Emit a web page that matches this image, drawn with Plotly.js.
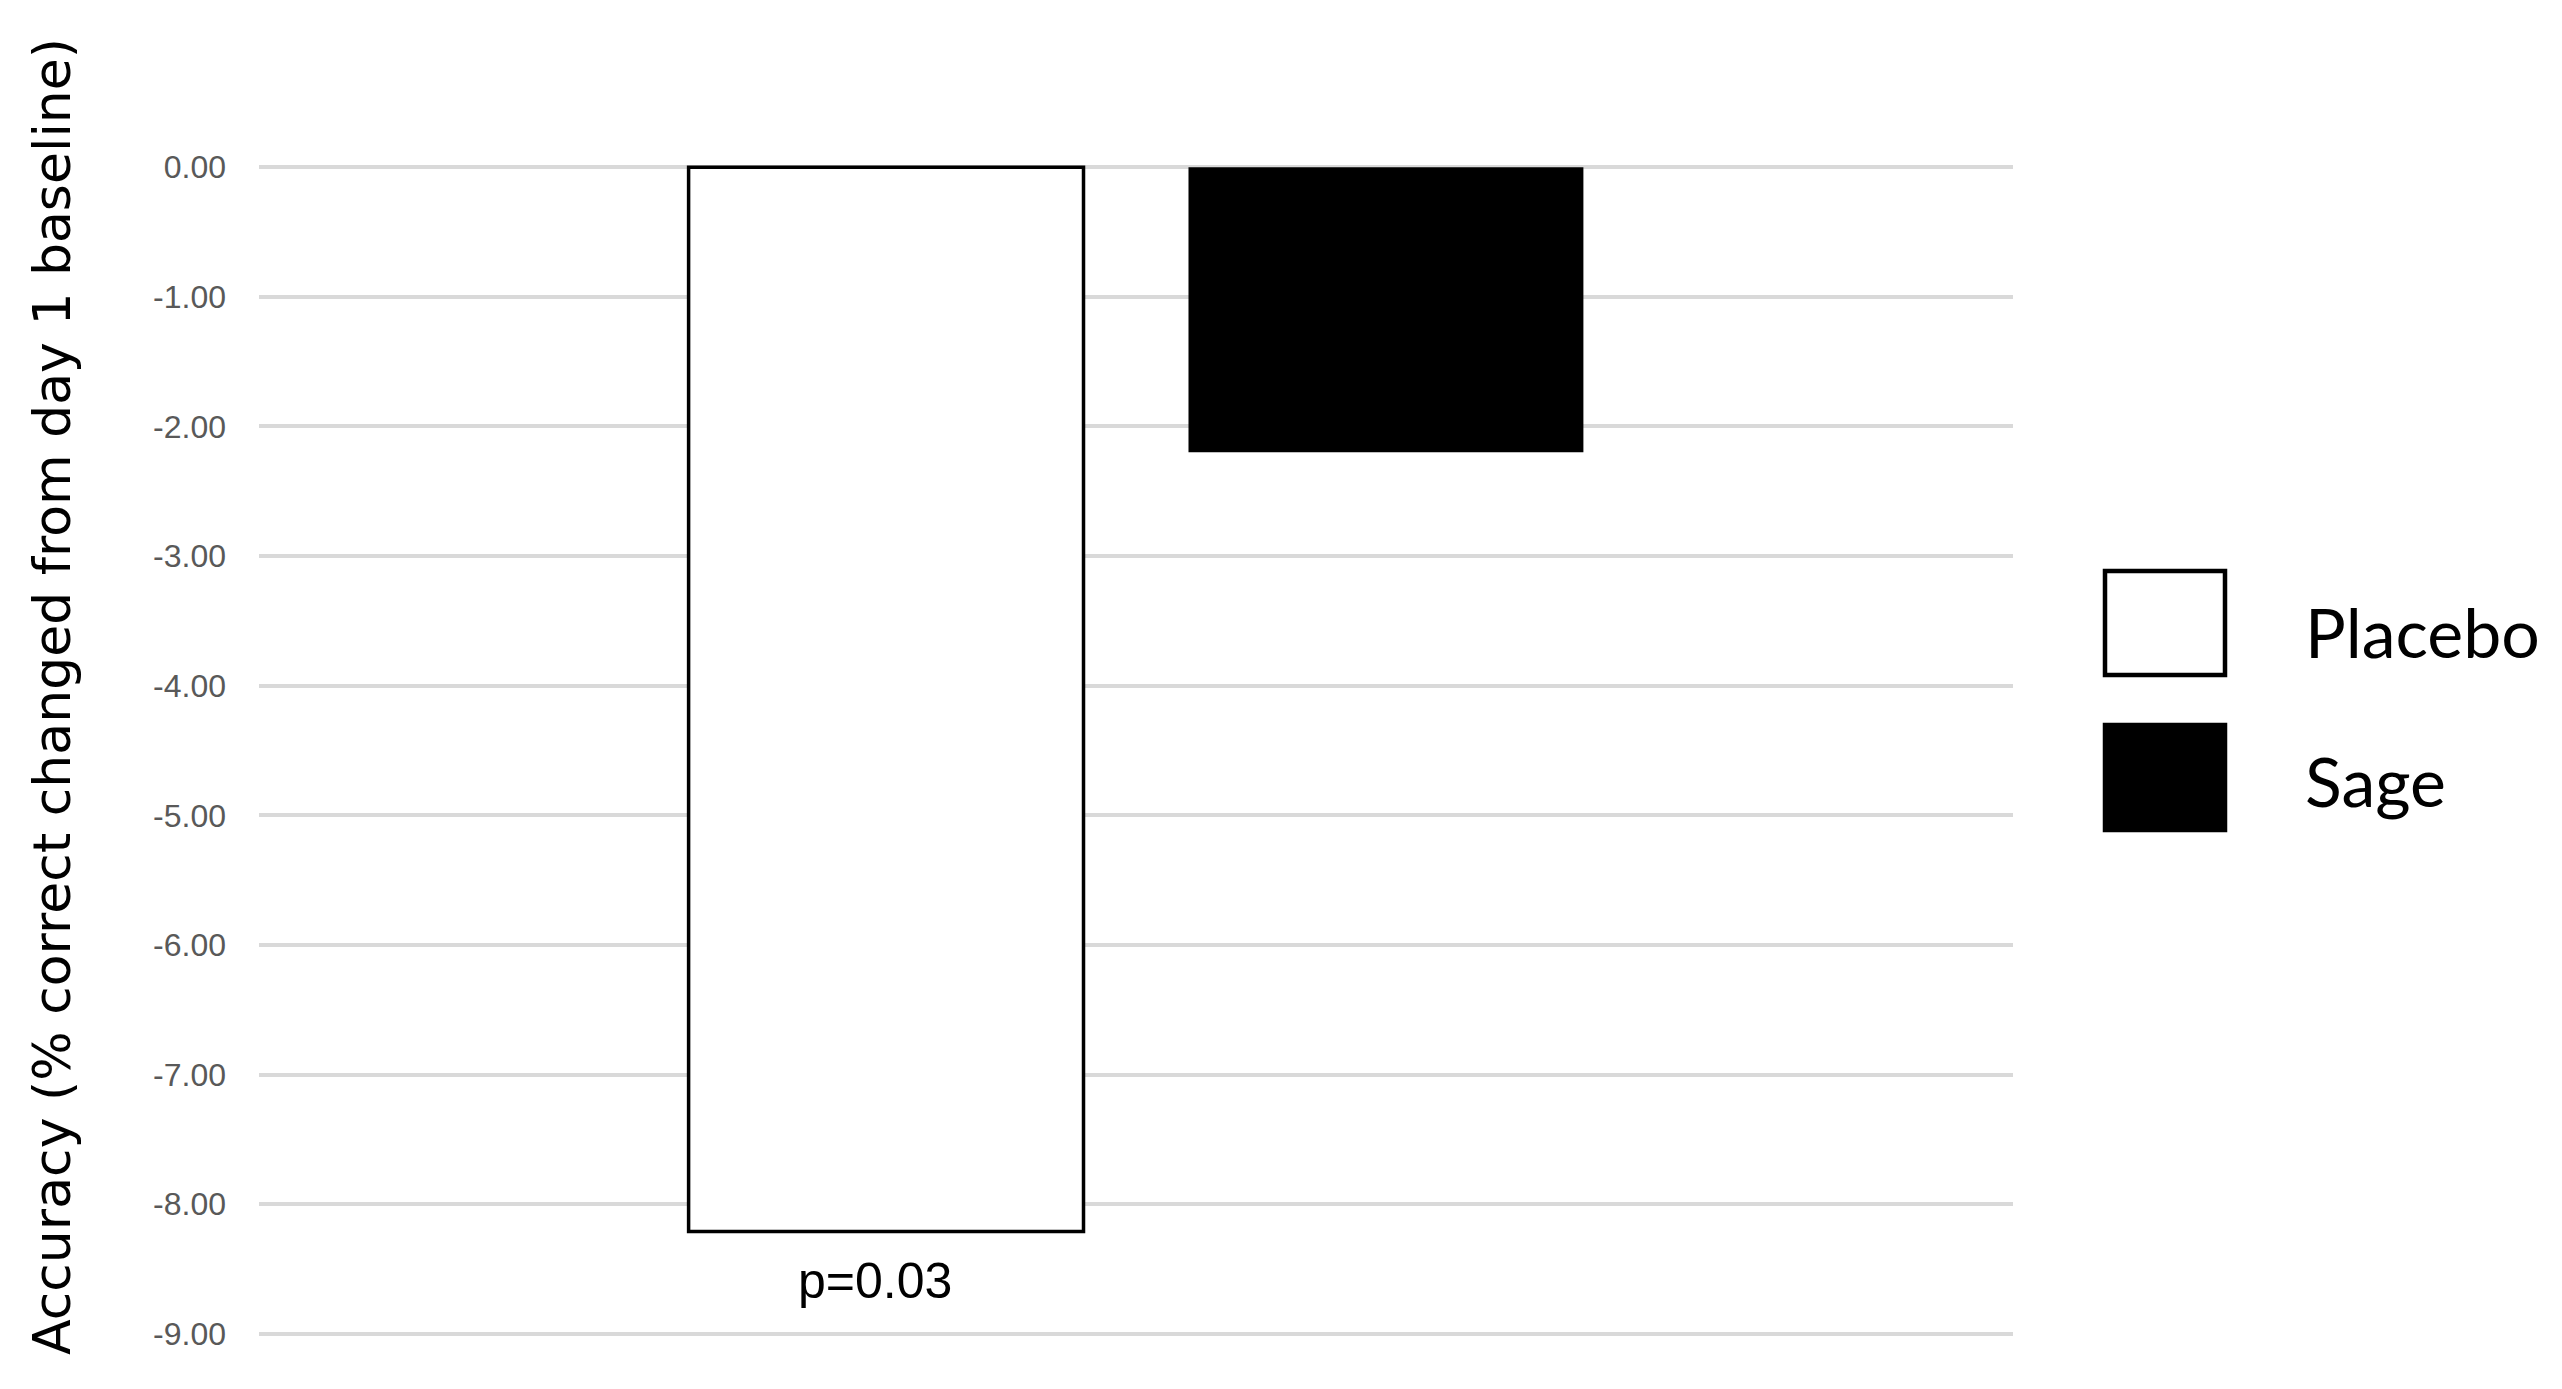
<!DOCTYPE html>
<html>
<head>
<meta charset="utf-8">
<script src="https://cdn.plot.ly/plotly-3.0.1.min.js"></script>
<style>
  html, body { margin: 0; padding: 0; background: #fff; }
  #chart { width: 2562px; height: 1389px; }
</style>
</head>
<body>
<div id="chart"></div>
<script>
// Accuracy change from day 1 baseline, one group of two bars
const groups = ['Placebo', 'Sage'];
const accuracyChange = [-8.21, -2.20];
const groupFills = ['#ffffff', '#000000'];
const category = ['Accuracy'];
const tickValues = [0, -1, -2, -3, -4, -5, -6, -7, -8, -9];
const tickLabels = ['0.00', '-1.00', '-2.00', '-3.00', '-4.00', '-5.00', '-6.00', '-7.00', '-8.00', '-9.00'];
const pLabel = 'p=0.03';

const W = 2562, H = 1389;
const M = { l: 259, r: 549, t: 162, b: 50 };
const plotW = W - M.l - M.r, plotH = H - M.t - M.b;
// pixel -> paper helpers for legend / labels placed outside the plot area
const px = (x) => (x - M.l) / plotW;
const py = (y) => (H - M.b - y) / plotH;

const traces = groups.map((name, i) => ({
  type: 'bar', name, x: category, y: [accuracyChange[i]],
  marker: { color: groupFills[i], line: { color: '#000000', width: i === 0 ? 3.5 : 0 } },
  hoverinfo: 'name+y',
}));

const shapes = [];
const annotations = [];

// hand-drawn legend: big square swatches like the original
const legendRows = [{ y0: 569, y1: 677, ty: 631 }, { y0: 723, y1: 832, ty: 781 }];
groups.forEach((name, i) => {
  const r = legendRows[i];
  shapes.push({
    type: 'rect', xref: 'paper', yref: 'paper',
    x0: px(2105), x1: px(2225), y0: py(r.y1 - 2), y1: py(r.y0 + 2),
    fillcolor: groupFills[i], line: { color: '#000000', width: 4.5 },
  });
  annotations.push({
    xref: 'paper', yref: 'paper', x: px(2303), y: py(r.ty),
    xanchor: 'left', yanchor: 'middle', showarrow: false, text: name,
    font: { family: 'Lato, "Liberation Sans Narrow", sans-serif', size: 68, color: '#000000' },
  });
});

// significance label under the placebo bar
annotations.push({
  xref: 'paper', yref: 'paper', x: px(875), y: py(1281),
  xanchor: 'center', yanchor: 'middle', showarrow: false, text: pLabel,
  font: { family: '"Liberation Sans", Arial, sans-serif', size: 50, color: '#000000' },
});

// y axis title, offset upward like the original
annotations.push({
  xref: 'paper', yref: 'paper', x: px(52), y: py(697),
  xanchor: 'center', yanchor: 'middle', showarrow: false, textangle: -90,
  text: 'Accuracy (% correct changed from day 1 baseline)',
  font: { family: '"DejaVu Sans", Verdana, sans-serif', size: 52, color: '#000000' },
});

const layout = {
  width: W, height: H,
  margin: M,
  paper_bgcolor: '#ffffff', plot_bgcolor: '#ffffff',
  showlegend: false,
  barmode: 'group', bargap: 0.43, bargroupgap: 0.21,
  xaxis: {
    type: 'category', range: [-0.5, 0.5],
    showticklabels: false, showgrid: false, zeroline: false, showline: false, ticks: '',
  },
  yaxis: {
    range: [-9.04, 0.04],
    tickvals: tickValues, ticktext: tickLabels,
    tickfont: { family: '"Liberation Sans", Arial, sans-serif', size: 32, color: '#595959' },
    ticks: '', ticklabelstandoff: 32,
    showgrid: true, gridcolor: '#d9d9d9', gridwidth: 4,
    zeroline: false, showline: false,
  },
  shapes,
  annotations,
};

Plotly.newPlot('chart', traces, layout, { displayModeBar: false, responsive: false });
</script>
</body>
</html>
